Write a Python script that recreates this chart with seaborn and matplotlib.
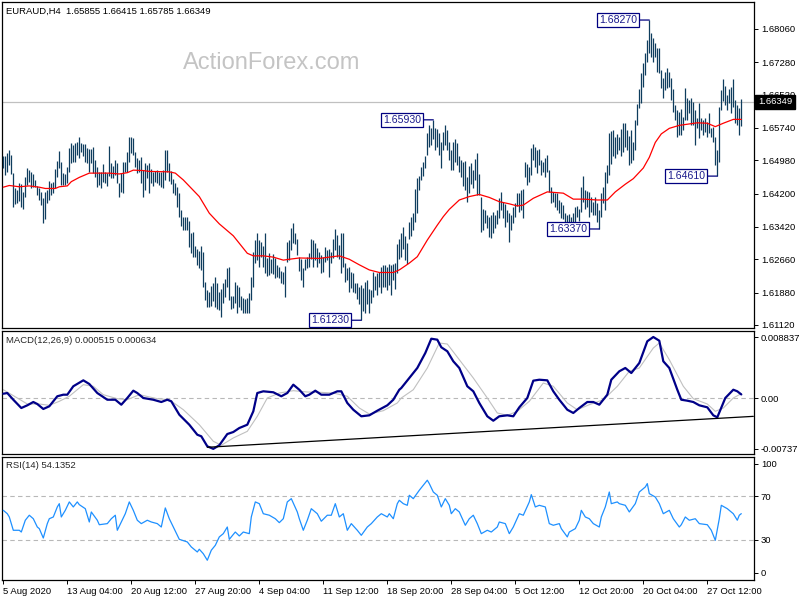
import matplotlib
matplotlib.use("Agg")
import matplotlib.pyplot as plt
import matplotlib.transforms as mtransforms
import pandas as pd
import seaborn as sns

# ---- price bars (H4) ----
bar_high = [
    1.6507, 1.6507, 1.6516, 1.6522, 1.6511, 1.6469, 1.6433, 1.6428, 1.6446, 1.6443,
    1.6424, 1.6458, 1.6479, 1.6475, 1.6471, 1.6466, 1.6452, 1.6438, 1.6432, 1.6424,
    1.6409, 1.6424, 1.6428, 1.6450, 1.6444, 1.6448, 1.6478, 1.6496, 1.6520, 1.6495,
    1.6469, 1.6466, 1.6483, 1.6526, 1.6539, 1.6534, 1.6538, 1.6542, 1.6552, 1.6538,
    1.6536, 1.6536, 1.6526, 1.6524, 1.6524, 1.6529, 1.6499, 1.6483, 1.6471, 1.6471,
    1.6489, 1.6471, 1.6469, 1.6532, 1.6491, 1.6485, 1.6499, 1.6492, 1.6446, 1.6468,
    1.6495, 1.6495, 1.6518, 1.6552, 1.6552, 1.6550, 1.6518, 1.6503, 1.6499, 1.6505,
    1.6475, 1.6492, 1.6487, 1.6491,
    1.6477, 1.6471, 1.6474, 1.6475, 1.6471, 1.6471, 1.6475, 1.6522, 1.6522, 1.6492,
    1.6474, 1.6454, 1.6444, 1.6435, 1.6422, 1.6382, 1.6366, 1.6364, 1.6366, 1.6356,
    1.6328, 1.6331, 1.6297, 1.6289, 1.6286, 1.6297, 1.6284, 1.6213, 1.6194, 1.6190,
    1.6203, 1.6210, 1.6225, 1.6211, 1.6190, 1.6196, 1.6210, 1.6219, 1.6245, 1.6249,
    1.6180, 1.6180, 1.6213, 1.6206, 1.6202, 1.6180, 1.6174, 1.6172, 1.6174, 1.6186,
    1.6225, 1.6284, 1.6311, 1.6328, 1.6311, 1.6307, 1.6297, 1.6328, 1.6268, 1.6280,
    1.6266, 1.6278, 1.6268, 1.6253, 1.6249, 1.6239, 1.6235, 1.6250, 1.6307, 1.6311,
    1.6340, 1.6352, 1.6328, 1.6313, 1.6272,
    1.6266, 1.6245, 1.6266, 1.6272, 1.6280, 1.6313, 1.6311, 1.6305, 1.6292, 1.6284,
    1.6276, 1.6272, 1.6295, 1.6288, 1.6289, 1.6284, 1.6313, 1.6336, 1.6323, 1.6299,
    1.6327, 1.6328, 1.6258, 1.6245, 1.6249, 1.6235, 1.6233, 1.6211, 1.6210, 1.6202,
    1.6206, 1.6198, 1.6213, 1.6217, 1.6196, 1.6194, 1.6237, 1.6227, 1.6233, 1.6237,
    1.6249, 1.6253, 1.6253, 1.6249, 1.6255, 1.6253, 1.6255, 1.6258, 1.6302, 1.6313,
    1.6327, 1.6342, 1.6321, 1.6303, 1.6354, 1.6364, 1.6374, 1.6430, 1.6456, 1.6461,
    1.6483, 1.6495, 1.6508, 1.6561, 1.6581, 1.6573, 1.6593, 1.6573, 1.6571, 1.6561,
    1.6542, 1.6565, 1.6581, 1.6569, 1.6542,
    1.6522, 1.6542, 1.6547, 1.6539, 1.6508, 1.6499, 1.6495, 1.6497, 1.6460, 1.6485,
    1.6491, 1.6475, 1.6500, 1.6516, 1.6466, 1.6413, 1.6383, 1.6382, 1.6370, 1.6366,
    1.6370, 1.6378, 1.6370, 1.6382, 1.6409, 1.6424, 1.6401, 1.6396, 1.6382, 1.6375,
    1.6370, 1.6388, 1.6399, 1.6421, 1.6421, 1.6428, 1.6430, 1.6495, 1.6489, 1.6483,
    1.6526, 1.6536, 1.6530, 1.6522, 1.6524, 1.6499, 1.6495, 1.6503, 1.6511, 1.6475,
    1.6436, 1.6424, 1.6422, 1.6421, 1.6405, 1.6401, 1.6393, 1.6374, 1.6370, 1.6372,
    1.6366, 1.6374, 1.6388, 1.6391, 1.6383, 1.6435, 1.6461, 1.6428, 1.6427, 1.6424,
    1.6413, 1.6401, 1.6413, 1.6397, 1.6382,
    1.6422, 1.6436, 1.6471, 1.6487, 1.6561, 1.6567, 1.6569, 1.6553, 1.6560, 1.6553,
    1.6571, 1.6585, 1.6585, 1.6569, 1.6555, 1.6569, 1.6542, 1.6593, 1.6630, 1.6665,
    1.6702, 1.6726, 1.6749, 1.6780, 1.6827, 1.6796, 1.6784, 1.6772, 1.6761, 1.6761,
    1.6710, 1.6690, 1.6706, 1.6714, 1.6704, 1.6690, 1.6665, 1.6628, 1.6616, 1.6612,
    1.6618, 1.6600, 1.6667, 1.6643, 1.6640, 1.6643, 1.6635, 1.6616, 1.6597, 1.6632,
    1.6597, 1.6593, 1.6597, 1.6589, 1.6608, 1.6573, 1.6577, 1.6553, 1.6522, 1.6624,
    1.6663, 1.6688, 1.6672, 1.6651, 1.6665, 1.6669, 1.6688, 1.6640, 1.6628, 1.6620,
    1.66415,
]
bar_low = [
    1.6481, 1.6464, 1.6471, 1.6487, 1.6466, 1.6389, 1.6396, 1.6399, 1.6403, 1.6389,
    1.6385, 1.6413, 1.6440, 1.6448, 1.6432, 1.6435, 1.6435, 1.6417, 1.6406, 1.6393,
    1.6352, 1.6360, 1.6397, 1.6405, 1.6417, 1.6421, 1.6432, 1.6458, 1.6479, 1.6440,
    1.6440, 1.6440, 1.6444, 1.6471, 1.6491, 1.6495, 1.6495, 1.6511, 1.6503, 1.6518,
    1.6507, 1.6495, 1.6492, 1.6471, 1.6492, 1.6468, 1.6460, 1.6436, 1.6440, 1.6432,
    1.6448, 1.6444, 1.6438, 1.6461, 1.6456, 1.6456, 1.6464, 1.6444, 1.6413, 1.6424,
    1.6421, 1.6471, 1.6471, 1.6495, 1.6516, 1.6511, 1.6483, 1.6469, 1.6471, 1.6444,
    1.6413, 1.6428, 1.6456, 1.6422,
    1.6446, 1.6438, 1.6448, 1.6446, 1.6440, 1.6436, 1.6432, 1.6452, 1.6471, 1.6450,
    1.6443, 1.6421, 1.6417, 1.6389, 1.6366, 1.6344, 1.6335, 1.6335, 1.6335, 1.6295,
    1.6280, 1.6272, 1.6272, 1.6253, 1.6245, 1.6241, 1.6200, 1.6171, 1.6155, 1.6153,
    1.6156, 1.6167, 1.6155, 1.6149, 1.6147, 1.6130, 1.6164, 1.6178, 1.6202, 1.6171,
    1.6149, 1.6151, 1.6163, 1.6139, 1.6155, 1.6147, 1.6139, 1.6139, 1.6139, 1.6141,
    1.6171, 1.6202, 1.6257, 1.6264, 1.6249, 1.6272, 1.6249, 1.6233, 1.6227, 1.6229,
    1.6233, 1.6231, 1.6221, 1.6225, 1.6221, 1.6210, 1.6208, 1.6177, 1.6260, 1.6264,
    1.6288, 1.6303, 1.6302, 1.6276, 1.6239,
    1.6217, 1.6202, 1.6241, 1.6245, 1.6249, 1.6266, 1.6249, 1.6264, 1.6249, 1.6257,
    1.6233, 1.6237, 1.6260, 1.6264, 1.6225, 1.6257, 1.6268, 1.6288, 1.6272, 1.6266,
    1.6233, 1.6249, 1.6213, 1.6217, 1.6190, 1.6198, 1.6190, 1.6186, 1.6172, 1.6161,
    1.6123, 1.6145, 1.6139, 1.6161, 1.6139, 1.6164, 1.6178, 1.6194, 1.6182, 1.6202,
    1.6186, 1.6202, 1.6202, 1.6194, 1.6206, 1.6182, 1.6217, 1.6196, 1.6233, 1.6266,
    1.6272, 1.6289, 1.6264, 1.6255, 1.6313, 1.6321, 1.6335, 1.6354, 1.6374, 1.6428,
    1.6452, 1.6461, 1.6479, 1.6511, 1.6530, 1.6534, 1.6547, 1.6522, 1.6530, 1.6511,
    1.6479, 1.6522, 1.6534, 1.6522, 1.6499,
    1.6475, 1.6475, 1.6495, 1.6487, 1.6471, 1.6458, 1.6438, 1.6428, 1.6401, 1.6422,
    1.6443, 1.6432, 1.6452, 1.6417, 1.6417, 1.6331, 1.6335, 1.6352, 1.6339, 1.6318,
    1.6315, 1.6328, 1.6339, 1.6349, 1.6362, 1.6382, 1.6362, 1.6342, 1.6354, 1.6307,
    1.6335, 1.6352, 1.6364, 1.6391, 1.6378, 1.6382, 1.6362, 1.6460, 1.6440, 1.6448,
    1.6464, 1.6499, 1.6483, 1.6469, 1.6487, 1.6464, 1.6471, 1.6460, 1.6471, 1.6424,
    1.6397, 1.6401, 1.6389, 1.6382, 1.6375, 1.6362, 1.6360, 1.6349, 1.6339, 1.6338,
    1.6339, 1.6349, 1.6354, 1.6364, 1.6356, 1.6378, 1.6401, 1.6385, 1.6389, 1.6366,
    1.6378, 1.6370, 1.6370, 1.6354, 1.6337,
    1.6366, 1.6397, 1.6382, 1.6444, 1.6464, 1.6489, 1.6507, 1.6503, 1.6514, 1.6522,
    1.6507, 1.6518, 1.6530, 1.6522, 1.6487, 1.6491, 1.6499, 1.6522, 1.6581, 1.6620,
    1.6632, 1.6671, 1.6698, 1.6729, 1.6749, 1.6741, 1.6729, 1.6740, 1.6704, 1.6702,
    1.6667, 1.6643, 1.6663, 1.6667, 1.6671, 1.6640, 1.6612, 1.6593, 1.6553, 1.6557,
    1.6557, 1.6569, 1.6593, 1.6593, 1.6608, 1.6581, 1.6581, 1.6534, 1.6573, 1.6550,
    1.6569, 1.6557, 1.6565, 1.6553, 1.6561, 1.6553, 1.6542, 1.6487, 1.6461, 1.6495,
    1.6616, 1.6636, 1.6628, 1.6616, 1.6632, 1.6608, 1.6624, 1.6585, 1.6581, 1.6557,
    1.65785,
]
last_price = 1.66349
title_text = "EURAUD,H4  1.65855 1.66415 1.65785 1.66349"

# moving average (red), sampled at bar numbers
ma_bar = [0, 3, 8, 13, 18, 21, 26, 28, 32, 34, 38, 43, 48, 53, 58, 62, 65, 70, 73,
          83, 86, 90, 98, 103, 108, 115, 122, 125, 130, 135, 140, 143, 148, 158,
          168, 173, 178, 183, 188, 195, 198, 203, 207, 212, 217, 220, 223, 228,
          233, 238, 243, 248, 253, 257, 260, 265, 272, 280, 285, 290, 297, 302,
          306, 311, 315, 320, 323, 326, 329, 333, 338, 347, 352, 356, 360, 365, 369]
ma_val = [1.6435, 1.6439, 1.6436, 1.6438, 1.6435, 1.6432, 1.6432, 1.6436, 1.6438,
          1.6448, 1.6458, 1.6468, 1.6468, 1.6468, 1.6466, 1.6469, 1.6475, 1.6474,
          1.6472, 1.6471, 1.6468, 1.6452, 1.6413, 1.6374, 1.6349, 1.6321, 1.6280,
          1.6274, 1.6274, 1.6271, 1.6264, 1.6266, 1.6269, 1.6268, 1.6274, 1.6266,
          1.6253, 1.6241, 1.6235, 1.6235, 1.6241, 1.6257, 1.6272, 1.6311, 1.6346,
          1.6366, 1.6383, 1.6405, 1.6413, 1.6418, 1.6411, 1.6401, 1.6396, 1.6391,
          1.6393, 1.6409, 1.6424, 1.6421, 1.6407, 1.6407, 1.6405, 1.6405, 1.6424,
          1.6442, 1.6455, 1.6480, 1.6505, 1.6540, 1.6560, 1.6573, 1.6580, 1.6586,
          1.6585, 1.6577, 1.6585, 1.6594, 1.6594]

# swing labels
swing_bar = [323, 215, 179, 298, 357]
swing_val = [1.68270, 1.65930, 1.61230, 1.63370, 1.64610]

price_ticks = [1.68060, 1.67280, 1.66520, 1.65740, 1.64980, 1.64200, 1.63420,
               1.62660, 1.61880, 1.61120]

# MACD(12,26,9)
macd_bar = [0, 2, 5, 9, 12, 15, 17, 20, 23, 27, 30, 32, 35, 40, 43, 47, 52, 56, 59,
            62, 65, 67, 70, 75, 79, 82, 84, 88, 93, 97, 99, 102, 105, 108, 112, 115,
            118, 122, 125, 127, 130, 135, 139, 142, 145, 148, 151, 153, 156, 159,
            163, 167, 169, 172, 175, 179, 183, 187, 192, 195, 198, 199, 203, 207,
            211, 214, 217, 219, 222, 225, 228, 232, 235, 238, 242, 245, 248, 252,
            255, 258, 262, 265, 268, 272, 275, 278, 282, 285, 288, 292, 295, 298,
            302, 304, 308, 311, 314, 318, 322, 325, 328, 330, 333, 337, 339, 342,
            345, 348, 352, 355, 357, 361, 365, 367, 369]
macd_val = [0.00062, 0.00072, -0.00025, -0.00145, -0.00106, -0.00058, -0.00087,
            -0.00159, -0.0012, 0.00025, 0.00048, 0.00048, 0.0017, 0.00256, 0.00203,
            0.00072, -0.00025, -0.00025, -0.00097, 0.0, 0.00106, 0.00072, 0.0,
            -0.00025, -0.00058, -0.00025, -0.00048, -0.00242, -0.00387, -0.00532,
            -0.00555, -0.0070, -0.00737, -0.00685, -0.00522, -0.00493, -0.00435,
            -0.00387, -0.00193, 0.00072, 0.00097, 0.00083, 0.00025, 0.00072, 0.00193,
            0.0012, 0.00025, 0.00048, 0.00106, 0.00048, 0.00048, 0.00097, 0.00097,
            -0.00072, -0.0017, -0.00265, -0.00251, -0.00184, -0.00106, -0.00025,
            0.0012, 0.00145, 0.0029, 0.00435, 0.00652, 0.00859, 0.00845, 0.00735,
            0.00677, 0.00532, 0.00435, 0.0017, 0.00097, -0.00072, -0.00265, -0.00329,
            -0.00265, -0.00251, -0.00265, -0.00135, 0.0, 0.00251, 0.00265, 0.00256,
            0.00097, -0.00025, -0.0017, -0.00217, -0.00145, -0.00058, -0.00058,
            -0.00097, 0.00048, 0.00265, 0.00387, 0.00435, 0.00362, 0.00507, 0.00822,
            0.008837, 0.0083, 0.00532, 0.00435, 0.0012, -0.00025, -0.00039, -0.00058,
            -0.00106, -0.00135, -0.00251, -0.0028, 0.0, 0.0012, 0.00097, 0.000515]
signal_bar = [0, 7, 12, 18, 23, 28, 33, 40, 45, 50, 57, 62, 68, 77, 83, 90, 98, 105,
              109, 115, 122, 127, 132, 138, 145, 152, 158, 165, 172, 178, 183, 190,
              197, 199, 205, 212, 218, 222, 228, 235, 242, 247, 252, 257, 263, 270,
              275, 282, 287, 293, 300, 307, 313, 318, 325, 328, 333, 340, 345, 352,
              356, 360, 365, 369]
signal_val = [0.0012, 0.0, -0.00087, -0.00087, -0.00106, -0.00048, 0.00025, 0.00193,
              0.0017, 0.00048, -0.0001, -0.00025, 0.00048, -0.0001, -0.00025,
              -0.00169, -0.00387, -0.00627, -0.00685, -0.00579, -0.00483, -0.00265,
              0.0, 0.00072, 0.00106, 0.00087, 0.00083, 0.00072, 0.00025, -0.00145,
              -0.00232, -0.00184, -0.00072, 0.0, 0.0012, 0.00435, 0.00797, 0.00782,
              0.00555, 0.0029, 0.0, -0.00217, -0.00251, -0.00193, -0.00048, 0.00217,
              0.0017, -0.00072, -0.0017, -0.00097, -0.00025, 0.00169, 0.00387,
              0.00435, 0.00724, 0.00797, 0.00555, 0.0017, -0.0001, -0.00087,
              -0.00193, -0.00145, 0.0, 0.000634]
trend_bar = [102, 375]
trend_val = [-0.00714, -0.00266]
macd_ticks = [0.008837, 0.0, -0.00737]
macd_tick_labels = ["0.008837", "0.00", "-0.00737"]

# RSI(14)
rsi_bar = [0, 2, 3, 5, 8, 9, 11, 13, 15, 17, 18, 20, 22, 23, 25, 27, 28, 29, 31, 33,
           35, 37, 38, 41, 43, 44, 47, 48, 52, 54, 56, 57, 59, 61, 63, 65, 67, 69,
           72, 74, 77, 79, 81, 83, 85, 88, 92, 94, 97, 98, 100, 102, 104, 106, 108,
           110, 112, 113, 116, 118, 120, 123, 124, 126, 128, 130, 133, 136, 138,
           140, 142, 144, 147, 148, 150, 152, 154, 157, 159, 162, 164, 166, 168,
           170, 172, 174, 177, 179, 182, 184, 187, 189, 192, 193, 195, 197, 198,
           200, 202, 203, 205, 208, 210, 212, 213, 215, 217, 219, 221, 223, 224,
           226, 228, 231, 233, 235, 237, 239, 242, 244, 247, 248, 251, 253, 255,
           258, 260, 263, 264, 266, 268, 271, 273, 275, 278, 279, 282, 283, 286,
           288, 289, 291, 293, 295, 298, 299, 301, 303, 304, 307, 308, 311, 313,
           316, 318, 321, 322, 323, 326, 328, 330, 333, 335, 338, 339, 341, 343,
           346, 348, 352, 354, 356, 358, 359, 362, 363, 365, 367, 368, 369]
rsi_val = [57.2, 54.1, 51.1, 38.9, 38.9, 37.3, 48.1, 52.7, 49.5, 41.9, 40.4, 31.8,
           45.0, 49.5, 51.1, 60.3, 63.3, 51.1, 57.2, 64.9, 60.3, 64.9, 62.4, 58.7,
           46.5, 55.7, 48.1, 44.0, 45.0, 49.5, 52.7, 38.9, 46.5, 54.1, 64.9, 57.2,
           48.1, 45.0, 48.1, 46.5, 45.0, 41.9, 59.4, 49.5, 41.9, 30.6, 28.2, 23.6,
           19.0, 21.5, 17.4, 11.4, 20.6, 25.1, 32.8, 35.8, 41.9, 30.6, 37.3, 33.7,
           37.3, 35.8, 51.1, 64.9, 63.3, 54.1, 52.7, 49.5, 45.9, 49.5, 64.9, 67.9,
           55.7, 49.5, 38.9, 48.1, 58.7, 54.1, 47.2, 52.7, 52.7, 63.3, 51.1, 54.1,
           38.9, 45.0, 38.9, 34.3, 41.9, 45.0, 51.1, 54.1, 51.1, 54.1, 49.5, 63.3,
           66.4, 63.3, 61.8, 71.0, 67.9, 75.6, 80.2, 84.8, 81.7, 74.0, 71.0, 60.3,
           67.9, 61.8, 54.1, 58.7, 55.7, 43.5, 49.5, 52.7, 45.0, 35.8, 38.9, 37.3,
           41.9, 46.5, 45.0, 35.8, 41.9, 54.1, 52.7, 64.9, 71.6, 60.3, 61.8, 60.3,
           45.0, 43.5, 45.0, 40.4, 32.8, 37.3, 40.4, 48.1, 57.2, 51.1, 49.5, 45.0,
           41.9, 51.1, 60.3, 74.0, 63.3, 64.9, 63.3, 61.8, 55.7, 63.3, 74.0, 78.6,
           81.7, 72.5, 69.4, 63.3, 54.1, 57.2, 49.5, 41.9, 44.0, 51.1, 48.1, 49.5,
           45.0, 44.0, 38.9, 29.7, 49.5, 61.8, 58.7, 57.2, 54.1, 48.1, 52.7, 54.1352]
rsi_ticks = [100, 70, 30, 0]

# time axis labels, one every 32 H4 bars
time_labels = ["5 Aug 2020", "13 Aug 04:00", "20 Aug 12:00", "27 Aug 20:00",
               "4 Sep 04:00", "11 Sep 12:00", "18 Sep 20:00", "28 Sep 04:00",
               "5 Oct 12:00", "12 Oct 20:00", "20 Oct 04:00", "27 Oct 12:00"]

bars = pd.DataFrame({"bar": range(len(bar_high)), "high": bar_high, "low": bar_low})
ma = pd.DataFrame({"bar": ma_bar, "value": ma_val})
macd = pd.DataFrame({"bar": macd_bar, "value": macd_val})
signal = pd.DataFrame({"bar": signal_bar, "value": signal_val})
rsi = pd.DataFrame({"bar": rsi_bar, "value": rsi_val})

sns.set_style("white")
plt.rcParams["font.family"] = ["Liberation Sans", "DejaVu Sans"]

W, H = 800, 600
fig = plt.figure(figsize=(8, 6), dpi=100)


def px_axes(x0, y0, x1, y1):
    return fig.add_axes([x0 / W, 1 - y1 / H, (x1 - x0) / W, (y1 - y0) / H])


ax_p = px_axes(2, 2, 754, 328)
ax_m = px_axes(2, 331, 754, 454)
ax_r = px_axes(2, 457, 754, 580)

FS = 6.8
BAR_COLOR = "#0f3d5e"
XLIM = (-0.65, 375.35)

for ax in (ax_p, ax_m, ax_r):
    ax.set_xlim(*XLIM)
    for s in ax.spines.values():
        s.set_color("black")
        s.set_linewidth(0.9)
    ax.tick_params(axis="y", which="both", left=False, right=True, labelleft=False,
                   labelright=True, direction="out", length=3, width=0.7,
                   labelsize=FS, pad=2, colors="black")
    ax.set_xlabel("")
    ax.set_ylabel("")

# --- price panel ---
ax_p.vlines(bars["bar"], bars["low"], bars["high"], color=BAR_COLOR, lw=0.9, zorder=3)
sns.lineplot(data=ma, x="bar", y="value", ax=ax_p, color="red", lw=0.9,
             estimator=None, zorder=4)
ax_p.axhline(last_price, color="#c0c0c0", lw=0.9, zorder=1)
ax_p.set_ylim(1.6869, 1.61048)
ax_p.set_ylim(1.61048, 1.68693)
ax_p.set_yticks(price_ticks)
ax_p.set_yticklabels([f"{v:.5f}" for v in price_ticks])
ax_p.set_xticks([])
ax_p.set_xlabel("")
ax_p.set_ylabel("")

for b, v in zip(swing_bar, swing_val):
    ax_p.annotate(f"{v:.5f}", xy=(b, v), xytext=(-12, 0), textcoords="offset pixels",
                  ha="right", va="center", color="#1a1a8c", fontsize=7.6, zorder=6,
                  bbox=dict(boxstyle="square,pad=0.18", fc="white", ec="#000080", lw=0.9),
                  arrowprops=dict(arrowstyle="-", color="#000080", lw=0.9,
                                  shrinkA=0, shrinkB=0))

trans = mtransforms.blended_transform_factory(ax_p.transAxes, ax_p.transData)
ax_p.text(1.0 + 4 / 752, last_price, f"{last_price:.5f}", transform=trans, ha="left",
          va="center", color="white", fontsize=FS, zorder=10, clip_on=False,
          bbox=dict(boxstyle="square,pad=0.3", fc="black", ec="black"))
ax_p.text(4 / 752, 1 - 9 / 326, title_text, transform=ax_p.transAxes, ha="left",
          va="center", fontsize=FS, color="black")
fig.text(272 / W, 1 - 63 / H, "ActionForex.com", ha="center", va="center",
         fontsize=17, color="#c4c4c4")

# --- MACD panel ---
ax_m.axhline(0, color="#b8b8b8", lw=0.8, ls=(0, (4, 3)), zorder=1)
sns.lineplot(data=signal, x="bar", y="value", ax=ax_m, color="#c0c0c0", lw=0.8,
             estimator=None, zorder=2)
sns.lineplot(data=macd, x="bar", y="value", ax=ax_m, color="#000088", lw=1.6,
             estimator=None, zorder=3)
sns.lineplot(x=trend_bar, y=trend_val, ax=ax_m, color="black", lw=0.9,
             estimator=None, zorder=4)
ax_m.set_xlim(*XLIM)
ax_m.set_ylim(-0.008114, 0.009708)
ax_m.set_yticks(macd_ticks)
ax_m.set_yticklabels(macd_tick_labels)
ax_m.set_xticks([])
ax_m.set_xlabel("")
ax_m.set_ylabel("")
ax_m.text(4 / 752, 1 - 9 / 123, "MACD(12,26,9) 0.000515 0.000634",
          transform=ax_m.transAxes, ha="left", va="center", fontsize=FS)

# --- RSI panel ---
for lvl in (70, 30):
    ax_r.axhline(lvl, color="#b8b8b8", lw=0.8, ls=(0, (4, 3)), zorder=1)
sns.lineplot(data=rsi, x="bar", y="value", ax=ax_r, color="#1e90ff", lw=0.9,
             estimator=None, zorder=3)
ax_r.set_xlim(*XLIM)
ax_r.set_ylim(-6.7, 106.1)
ax_r.set_yticks(rsi_ticks)
ax_r.set_yticklabels([str(t) for t in rsi_ticks])
ax_r.set_xticks([32 * k for k in range(len(time_labels))])
ax_r.set_xticklabels(time_labels, ha="left")
ax_r.tick_params(axis="x", bottom=True, direction="out", length=3, width=0.7,
                 labelsize=FS, pad=2, colors="black")
ax_r.set_xlabel("")
ax_r.set_ylabel("")
ax_r.text(4 / 752, 1 - 9 / 123, "RSI(14) 54.1352", transform=ax_r.transAxes,
          ha="left", va="center", fontsize=FS)

fig.savefig("out.png", dpi=100, facecolor="white")
